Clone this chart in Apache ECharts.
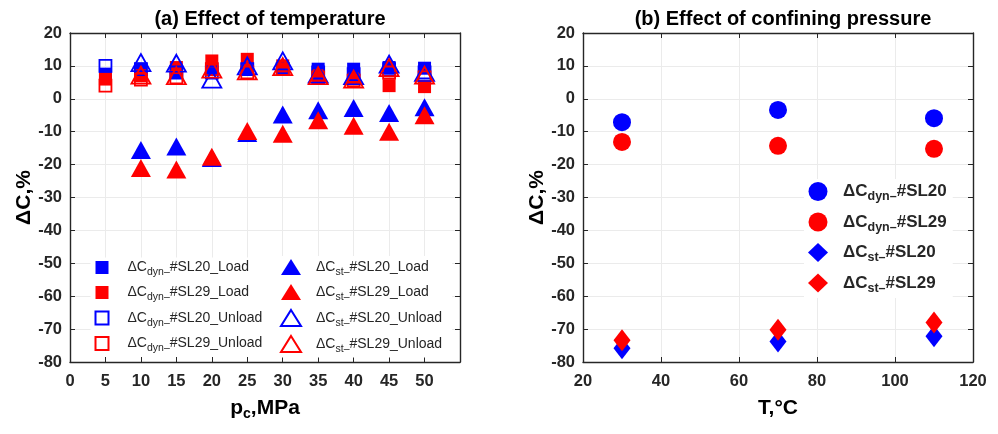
<!DOCTYPE html>
<html>
<head>
<meta charset="utf-8">
<script src="https://cdn.jsdelivr.net/npm/echarts@6/dist/echarts.min.js"></script>
<style>
  html, body { margin: 0; padding: 0; background: #fff; }
  #chart { width: 998px; height: 434px; }
</style>
</head>
<body>
<div id="chart"></div>
<script>
// confining pressure, MPa (panel a)
var pressure = [5, 10, 15, 20, 25, 30, 35, 40, 45, 50];
var dynSL20Load   = [7.5, 9, 8, 9, 9, 9, 9, 9, 9.5, 9.3];
var dynSL29Load   = [6, 7, 9.5, 11.5, 12, 10, 7, 6, 4, 3.7];
var dynSL20Unload = [10, 9, 8, 8, 9, 9, 8, 7.5, 9, 8];
var dynSL29Unload = [4, 5.8, 6.5, 9, 8, 9, 6.5, 5.5, 8, 6.5];
var stSL20Load    = [null, -15.6, -14.5, -18, -10.4, -4.8, -3.5, -2.8, -4.3, -2.6];
var stSL29Load    = [null, -21, -21.5, -17.6, -9.8, -10.6, -6.5, -8.2, -10, -5];
var stSL20Unload  = [null, 11, 10.8, 6, 10, 11.5, 7.5, 7, 10.5, 8];
var stSL29Unload  = [null, 7.2, 7, 9, 8.5, 9.8, 7, 6, 9.5, 7.2];

// temperature, °C (panel b)
var temperature = [30, 70, 110];
var tDynSL20 = [-7.1, -3.4, -5.9];
var tDynSL29 = [-13.1, -14.3, -15.2];
var tStSL20  = [-75.8, -73.8, -72.2];
var tStSL29  = [-73.4, -70.2, -68];

var BLUE = "#0000ff";
var RED = "#ff0000";
var INK = "#262626";
var FONT = "Liberation Sans";

function pairs(xs, ys) {
  var out = [];
  for (var i = 0; i < xs.length; i++) {
    if (ys[i] !== null) out.push([xs[i], ys[i]]);
  }
  return out;
}

function legendText(sub, rest) {
  return "{a|\u0394C}{s|" + sub + "\u2013}{a|" + rest + "}";
}

var legendNames = {
  dynSL20Load: legendText("dyn", "#SL20_Load"),
  dynSL29Load: legendText("dyn", "#SL29_Load"),
  dynSL20Unload: legendText("dyn", "#SL20_Unload"),
  dynSL29Unload: legendText("dyn", "#SL29_Unload"),
  stSL20Load: legendText("st", "#SL20_Load"),
  stSL29Load: legendText("st", "#SL29_Load"),
  stSL20Unload: legendText("st", "#SL20_Unload"),
  stSL29Unload: legendText("st", "#SL29_Unload"),
  tDynSL20: legendText("dyn", "#SL20"),
  tDynSL29: legendText("dyn", "#SL29"),
  tStSL20: legendText("st", "#SL20"),
  tStSL29: legendText("st", "#SL29")
};

function mainX(grid, min, max, interval, hideLast) {
  return {
    type: "value", gridIndex: grid, position: "bottom",
    min: min, max: max, interval: interval,
    axisLine: { show: true, onZero: false, lineStyle: { color: INK, width: 1.4 } },
    axisTick: { show: true, inside: true, length: 5, lineStyle: { color: INK } },
    axisLabel: {
      color: INK, fontFamily: FONT, fontWeight: "bold", fontSize: 16.5, margin: 11,
      formatter: function (v) { return hideLast && v === max ? "" : String(v); }
    },
    splitLine: { show: true, lineStyle: { color: "#ebebeb", width: 1 } }
  };
}

function sideAxis(grid, pos, min, max, interval) {
  return {
    type: "value", gridIndex: grid, position: pos,
    min: min, max: max, interval: interval,
    axisLine: { show: true, onZero: false, lineStyle: { color: INK, width: 1.4 } },
    axisTick: { show: true, inside: true, length: 5, lineStyle: { color: INK } },
    axisLabel: { show: false },
    splitLine: { show: false }
  };
}

function mainY(grid) {
  return {
    type: "value", gridIndex: grid, position: "left",
    min: -80, max: 20, interval: 10,
    name: "\u0394C,%", nameLocation: "middle", nameGap: 35, nameRotate: 90,
    nameTextStyle: { color: "#000", fontFamily: FONT, fontWeight: "bold", fontSize: 21 },
    axisLine: { show: true, onZero: false, lineStyle: { color: INK, width: 1.4 } },
    axisTick: { show: true, inside: true, length: 5, lineStyle: { color: INK } },
    axisLabel: { color: INK, fontFamily: FONT, fontWeight: "bold", fontSize: 16.5, margin: 8 },
    splitLine: { show: true, lineStyle: { color: "#ebebeb", width: 1 } }
  };
}

function filled(color) {
  return { color: color, borderColor: color, borderWidth: 0, opacity: 1 };
}
function hollow(color) {
  return { color: "rgba(255,255,255,0)", borderColor: color, borderWidth: 1.8, opacity: 1 };
}

function scatter(name, grid, xs, ys, symbol, size, style) {
  return {
    type: "scatter", name: name,
    xAxisIndex: grid * 2, yAxisIndex: grid * 2,
    data: pairs(xs, ys),
    symbol: symbol, symbolSize: size,
    itemStyle: style,
    emphasis: { disabled: true },
    z: 3
  };
}

var richLeft = {
  a: { fontFamily: FONT, fontSize: 14, color: INK },
  s: { fontFamily: FONT, fontSize: 10.5, color: INK, padding: [10, 0, 0, 0] }
};
var richRight = {
  a: { fontFamily: FONT, fontSize: 17, fontWeight: "bold", color: INK },
  s: { fontFamily: FONT, fontSize: 12.5, fontWeight: "bold", color: INK, padding: [11, 0, 0, 0] }
};

function legend(names, left, top, gap, rich, w, h, textPad, pad) {
  return {
    data: names, orient: "vertical", left: left, top: top,
    itemGap: gap, itemWidth: w, itemHeight: h,
    backgroundColor: "#fff", padding: pad,
    selectedMode: false,
    formatter: function (n) { return legendNames[n]; },
    textStyle: { rich: rich, padding: [0, 0, 0, textPad] }
  };
}

var chart = echarts.init(document.getElementById("chart"), null, { renderer: "canvas" });

var option = {
  animation: false,
  backgroundColor: "#fff",
  title: [
    { text: "(a) Effect of temperature", left: 265, top: 4, textAlign: "center",
      textStyle: { color: "#000", fontFamily: FONT, fontWeight: "bold", fontSize: 20 } },
    { text: "(b) Effect of confining pressure", left: 778, top: 4, textAlign: "center",
      textStyle: { color: "#000", fontFamily: FONT, fontWeight: "bold", fontSize: 20 } }
  ],
  grid: [
    { left: 70, right: 538, top: 33, bottom: 72 },
    { left: 583, right: 25, top: 33, bottom: 72 }
  ],
  xAxis: [
    Object.assign(mainX(0, 0, 55, 5, true), {
      name: "{a|p}{s|c}{a|,MPa}", nameLocation: "middle", nameGap: 33,
      nameTextStyle: { rich: {
        a: { fontFamily: FONT, fontWeight: "bold", fontSize: 21, color: "#000" },
        s: { fontFamily: FONT, fontWeight: "bold", fontSize: 14, color: "#000", padding: [12, 0, 0, 0] }
      } }
    }),
    sideAxis(0, "top", 0, 55, 5),
    Object.assign(mainX(1, 20, 120, 20, false), {
      name: "T,\u00b0C", nameLocation: "middle", nameGap: 36,
      nameTextStyle: { color: "#000", fontFamily: FONT, fontWeight: "bold", fontSize: 21 }
    }),
    sideAxis(1, "top", 20, 120, 20)
  ],
  yAxis: [
    mainY(0),
    sideAxis(0, "right", -80, 20, 10),
    mainY(1),
    sideAxis(1, "right", -80, 20, 10)
  ],
  legend: [
    legend(["dynSL20Load", "dynSL29Load", "dynSL20Unload", "dynSL29Unload"],
      90.5, 257.5, 7.5, richLeft, 13, 13, 14, [3, 40, 3, 4]),
    legend(["stSL20Load", "stSL29Load", "stSL20Unload", "stSL29Unload"],
      276, 256, 6.5, richLeft, 20, 16, 10, [3, 10, 3, 4]),
    legend(["tDynSL20", "tDynSL29", "tStSL20", "tStSL29"],
      804, 179, 9, richRight, 20, 19, 10, [3, 6, 3, 4])
  ],
  series: [
    scatter("dynSL20Load", 0, pressure, dynSL20Load, "rect", 13, filled(BLUE)),
    scatter("dynSL29Load", 0, pressure, dynSL29Load, "rect", 13, filled(RED)),
    scatter("dynSL20Unload", 0, pressure, dynSL20Unload, "rect", 12, hollow(BLUE)),
    scatter("dynSL29Unload", 0, pressure, dynSL29Unload, "rect", 12, hollow(RED)),
    scatter("stSL20Load", 0, pressure, stSL20Load, "triangle", [20, 18], filled(BLUE)),
    scatter("stSL29Load", 0, pressure, stSL29Load, "triangle", [20, 18], filled(RED)),
    scatter("stSL20Unload", 0, pressure, stSL20Unload, "triangle", [19, 17], hollow(BLUE)),
    scatter("stSL29Unload", 0, pressure, stSL29Unload, "triangle", [19, 17], hollow(RED)),
    scatter("tDynSL20", 1, temperature, tDynSL20, "circle", 18, filled(BLUE)),
    scatter("tDynSL29", 1, temperature, tDynSL29, "circle", 18, filled(RED)),
    scatter("tStSL20", 1, temperature, tStSL20, "diamond", [17, 22], filled(BLUE)),
    scatter("tStSL29", 1, temperature, tStSL29, "diamond", [17, 22], filled(RED))
  ]
};

chart.setOption(option);
</script>
</body>
</html>
